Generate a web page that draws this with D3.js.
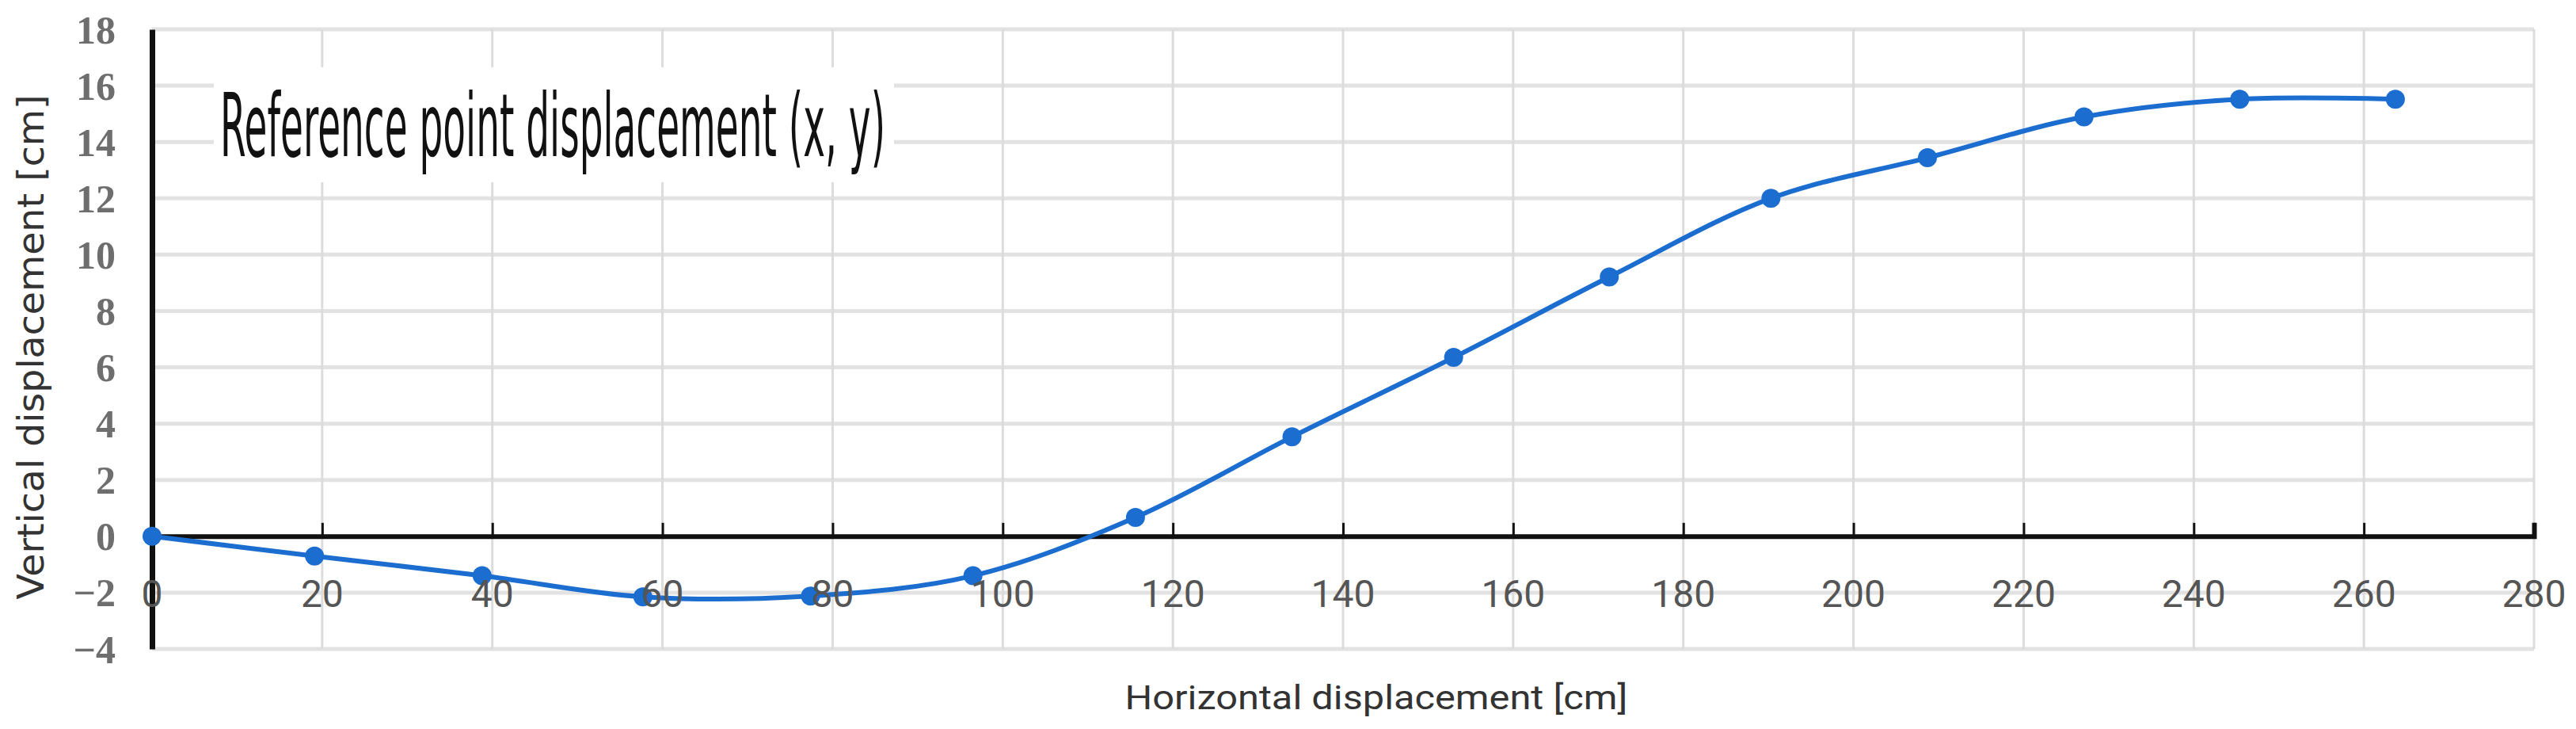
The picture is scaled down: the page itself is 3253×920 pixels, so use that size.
<!DOCTYPE html>
<html>
<head>
<meta charset="utf-8">
<script src="https://cdn.jsdelivr.net/npm/d3@7"></script>
<style>
  html, body { margin: 0; padding: 0; background: #ffffff; }
  svg { display: block; }
</style>
</head>
<body>
<svg id="chart" width="3253" height="920"></svg>
<script>
// ---- data ----
const xValues = [0, 19.1, 38.8, 57.7, 77.4, 96.5, 115.6, 134.0, 153.0, 171.3, 190.3, 208.7, 227.1, 245.4, 263.7];
const yValues = [0, -0.70, -1.40, -2.15, -2.12, -1.40, 0.67, 3.53, 6.35, 9.21, 12.0, 13.44, 14.89, 15.52, 15.52];
const xTicks = [0, 20, 40, 60, 80, 100, 120, 140, 160, 180, 200, 220, 240, 260, 280];
const yTicks = [-4, -2, 0, 2, 4, 6, 8, 10, 12, 14, 16, 18];
const xTitle = "Horizontal displacement [cm]";
const yTitle = "Vertical displacement [cm]";
const annotation = "Reference point displacement (x, y)";

(function () {
const points = xValues.map((x, i) => ({ x, y: yValues[i] }));

const svg = d3.select("#chart");
const mLeft = 192, mRight = 3200, mTop = 37, mBottom = 819;

const x = d3.scaleLinear().domain([0, 280]).range([mLeft, mRight]);
const y = d3.scaleLinear().domain([-4, 18]).range([mBottom, mTop]);

// horizontal gridlines
svg.append("g").selectAll("line").data(yTicks).join("line")
  .attr("x1", mLeft).attr("x2", mRight)
  .attr("y1", d => y(d)).attr("y2", d => y(d))
  .attr("stroke", "#e2e2e2").attr("stroke-width", 5);

// vertical gridlines
svg.append("g").selectAll("line").data(xTicks.filter(d => d > 0)).join("line")
  .attr("x1", d => x(d)).attr("x2", d => x(d))
  .attr("y1", mTop).attr("y2", mBottom)
  .attr("stroke", "#dcdcdc").attr("stroke-width", 3);

// annotation box (white, covers gridlines)
svg.append("rect")
  .attr("x", 270).attr("y", 85).attr("width", 859).attr("height", 145)
  .attr("fill", "#ffffff");
svg.append("text")
  .attr("x", 278).attr("y", 197)
  .attr("font-family", "DejaVu Sans")
  .attr("font-size", 110)
  .attr("fill", "#111111")
  .attr("textLength", 840)
  .attr("lengthAdjust", "spacingAndGlyphs")
  .text(annotation);

// x axis at y = 0 (ticks pointing up)
const xAxis = d3.axisTop(x).tickValues(xTicks).tickSize(17).tickFormat("");
const gx = svg.append("g").attr("transform", `translate(0,${y(0)})`).call(xAxis);
gx.select(".domain").attr("stroke", "#111").attr("stroke-width", 6);
gx.selectAll(".tick line").attr("stroke", "#111").attr("stroke-width", 3);

// y axis line
const yAxis = d3.axisLeft(y).tickValues([]).tickSize(0);
const gy = svg.append("g").attr("transform", `translate(${mLeft},0)`).call(yAxis);
gy.select(".domain").attr("stroke", "#111").attr("stroke-width", 7);

// y tick labels
svg.append("g").selectAll("text").data(yTicks).join("text")
  .attr("x", 146).attr("y", d => y(d))
  .attr("dy", "0.35em")
  .attr("text-anchor", "end")
  .attr("font-family", "Liberation Serif")
  .attr("font-weight", "bold")
  .attr("font-size", 50)
  .attr("fill", "#6e6e6e")
  .text(d => d < 0 ? "\u2212" + Math.abs(d) : d);

// series line (smoothed) and markers
const line = d3.line().x(d => x(d.x)).y(d => y(d.y)).curve(d3.curveCatmullRom);
svg.append("path").datum(points)
  .attr("d", line)
  .attr("fill", "none")
  .attr("stroke", "#1c6dd0")
  .attr("stroke-width", 6);
svg.append("g").selectAll("circle").data(points).join("circle")
  .attr("cx", d => x(d.x)).attr("cy", d => y(d.y))
  .attr("r", 12)
  .attr("fill", "#1c6dd0");

// x tick labels
svg.append("g").selectAll("text").data(xTicks).join("text")
  .attr("x", d => x(d)).attr("y", 766)
  .attr("text-anchor", "middle")
  .attr("font-family", "Roboto")
  .attr("font-size", 48)
  .attr("fill", "#555555")
  .text(d => d);

// axis titles
svg.append("text")
  .attr("x", 1738).attr("y", 895)
  .attr("text-anchor", "middle")
  .attr("font-family", "Roboto")
  .attr("font-size", 42)
  .attr("fill", "#333333")
  .attr("textLength", 635)
  .attr("lengthAdjust", "spacingAndGlyphs")
  .text(xTitle);

svg.append("text")
  .attr("transform", "translate(55,438) rotate(-90)")
  .attr("text-anchor", "middle")
  .attr("font-family", "DejaVu Sans")
  .attr("font-size", 46)
  .attr("fill", "#333333")
  .attr("textLength", 637)
  .attr("lengthAdjust", "spacingAndGlyphs")
  .text(yTitle);
})();
</script>
</body>
</html>
